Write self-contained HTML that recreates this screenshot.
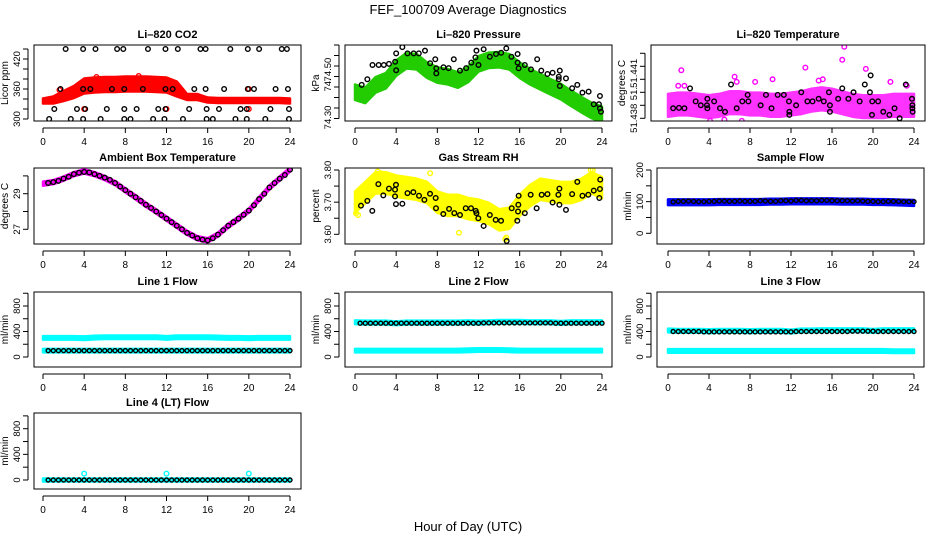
<!DOCTYPE html>
<html><head><meta charset="utf-8"><title>FEF_100709 Average Diagnostics</title>
<style>
html,body{margin:0;padding:0;background:#fff;}
svg{display:block;font-family:"Liberation Sans",Arial,sans-serif;}
.ttl{font-weight:bold;font-size:11px;}
.tk{font-size:10px;}
.tky{font-size:9.5px;}
</style></head>
<body>
<svg id="fig" width="936" height="540" viewBox="0 0 936 540" xmlns="http://www.w3.org/2000/svg">
<text x="468" y="14" text-anchor="middle" font-size="13">FEF_100709  Average Diagnostics</text>
<text x="468" y="531" text-anchor="middle" font-size="13">Hour of Day (UTC)</text>
</svg>
<script>
// ---------- data ----------
const xTicks = [0,4,8,12,16,20,24];
const hourly = [0,1,2,3,4,5,6,7,8,9,10,11,12,13,14,15,16,17,18,19,20,21,22,23,24];

// CO2
const co2BandCenter = [336,338,346,354,366,368,369,369,370,370,370,369,368,360,344,344,338,337,337,337,337,337,337,337,336];
const co2BandHalf   = [3,5,8,10,13,13,13,13,13,13,13,13,13,13,4,4,3,3,3,3,3,3,3,3,3];
const co2BlackHours = [2.2,3.9,5.1,7.2,7.8,10.2,11.9,13.1,15.3,15.8,18.2,19.9,21.0,23.2,23.7,
  1.7,3.9,4.6,6.7,7.9,9.7,11.9,12.6,14.7,15.8,17.6,19.9,20.5,22.6,23.8,
  1.1,3.3,4.1,6.2,7.9,9.1,11.2,11.9,14.2,15.9,17.1,19.2,19.8,22.1,23.9,
  0.6,2.7,3.9,5.6,7.9,8.5,10.7,11.8,13.6,15.9,16.5,18.7,19.8,21.6,23.9];
const co2BlackVals = [440,440,440,440,440,440,440,440,440,440,440,440,440,440,440,
  360,360,360,360,360,360,360,360,360,360,360,360,360,360,360,
  320,320,320,320,320,320,320,320,320,320,320,320,320,320,320,
  300,300,300,300,300,300,300,300,300,300,300,300,300,300,300];
const co2RedHours = [4.0,12.0,20.0,4.0,12.0,20.0,1.6,2.0,5.2,9.3];
const co2RedVals  = [320,320,320,360,360,360,358,352,384,386];

// Pressure
const presBandCenter = [74.375,74.36,74.41,74.43,74.49,74.525,74.52,74.48,74.457,74.449,74.433,74.46,74.51,74.527,74.53,74.52,74.48,74.449,74.425,74.401,74.378,74.346,74.316,74.288,74.27];
const presBandHalf = 0.032;
const presBlackHours = [0.65,1.2,1.7,2.3,2.8,3.3,3.9,4.0,4.0,4.6,5.1,5.7,6.2,6.8,7.3,7.8,7.9,7.9,8.6,9.1,9.6,10.2,10.8,11.3,11.7,11.8,12.0,12.5,13.1,13.7,14.2,14.7,15.2,15.8,15.8,15.9,16.5,17.1,17.7,18.1,18.7,19.2,19.8,19.8,19.9,19.9,20.5,21.1,21.6,22.1,22.7,23.2,23.7,23.8,23.8,23.9];
const presBlackVals = [74.41,74.437,74.505,74.505,74.505,74.51,74.52,74.56,74.48,74.59,74.56,74.56,74.56,74.573,74.513,74.532,74.489,74.465,74.494,74.49,74.532,74.478,74.49,74.516,74.541,74.573,74.505,74.58,74.544,74.557,74.563,74.584,74.544,74.557,74.516,74.489,74.505,74.484,74.532,74.478,74.462,74.468,74.449,74.437,74.478,74.405,74.441,74.394,74.41,74.373,74.378,74.318,74.318,74.357,74.298,74.282];

// Li-820 temperature
const tempBandCenter = [51.4390,51.4391,51.4391,51.4390,51.4389,51.4390,51.4392,51.4392,51.4391,51.4391,51.4390,51.4390,51.4391,51.4392,51.4394,51.4395,51.4394,51.4392,51.4390,51.4389,51.4389,51.4389,51.4390,51.4390,51.4390];
const tempBandHalf = 0.0008;
const tempPinkHours = [1.3,1.0,1.6,6.5,6.7,8.5,10.2,13.4,14.7,15.1,16.9,17.0,17.2,19.3,21.7,23.3,4.1,7.2,5.5];
const tempPinkVals  = [51.4417,51.4405,51.4405,51.4412,51.4408,51.4408,51.4410,51.4419,51.4409,51.4410,51.4445,51.4425,51.4435,51.4418,51.4408,51.4405,51.4378,51.4378,51.4379];
const tempBlackHours = [0.5,1.07,1.6,2.15,2.7,3.2,3.8,3.84,3.84,4.5,5.07,5.56,6.15,6.7,7.25,7.77,7.84,9.04,9.56,10.1,10.7,11.3,11.8,11.84,11.84,12.5,13.0,13.6,14.1,14.7,15.2,15.7,15.8,15.8,16.6,17.0,17.6,18.1,18.7,19.2,19.7,19.77,19.9,19.93,20.5,21.0,21.6,22.1,22.6,23.2,23.8,23.84,23.84,23.87];
const tempBlackVals = [51.43877,51.4388,51.43877,51.4403,51.4393,51.4390,51.4390,51.4395,51.43877,51.4393,51.43877,51.4385,51.4406,51.43877,51.4393,51.4398,51.4393,51.4390,51.4398,51.43877,51.4398,51.4398,51.4393,51.4385,51.43826,51.4390,51.4400,51.4393,51.4393,51.4395,51.4393,51.4400,51.4390,51.4385,51.4395,51.4403,51.4395,51.4400,51.4393,51.4406,51.4400,51.4413,51.43826,51.4393,51.4393,51.4385,51.43826,51.43877,51.4380,51.4406,51.4395,51.4390,51.43877,51.4385];

// Ambient box temperature
const ambBand = [29.56,29.65,29.85,30.1,30.25,30.1,29.88,29.6,29.19,28.8,28.38,28.0,27.6,27.2,26.8,26.5,26.38,26.7,27.2,27.6,28.05,28.7,29.35,29.85,30.35];
const ambBlack = [29.6,29.65,29.72,29.85,29.95,30.1,30.18,30.22,30.2,30.1,30.0,29.9,29.78,29.6,29.4,29.2,29.0,28.8,28.6,28.38,28.2,28.0,27.8,27.6,27.4,27.2,27.0,26.8,26.65,26.5,26.42,26.38,26.5,26.7,26.95,27.2,27.4,27.6,27.82,28.05,28.35,28.7,29.0,29.35,29.6,29.85,30.05,30.35];

// Gas stream RH
const rhBandCenter = [3.70,3.73,3.76,3.76,3.75,3.745,3.74,3.73,3.70,3.69,3.69,3.68,3.675,3.665,3.645,3.65,3.69,3.72,3.74,3.735,3.73,3.73,3.74,3.76,3.745];
const rhBandHalf = 0.03;
const rhYellowHours = [2.2,2.5,7.3,10.1,14.6,14.7,0.1,0.3,22.9,23.1];
const rhYellowVals  = [3.795,3.79,3.79,3.605,3.585,3.59,3.665,3.66,3.80,3.80];
const rhBlackHours = [0.58,1.2,1.68,2.27,2.75,3.3,3.89,3.89,3.98,3.98,4.6,5.1,5.67,6.22,6.74,7.29,7.84,7.87,8.58,9.14,9.65,10.2,10.76,11.27,11.73,11.8,11.98,12.5,13.1,13.67,14.19,14.74,15.23,15.77,15.84,15.87,15.9,16.5,17.07,17.65,18.14,18.7,19.2,19.76,19.86,19.86,20.5,21.1,21.6,22.1,22.67,23.2,23.74,23.8,23.83];
const rhBlackVals = [3.689,3.704,3.673,3.756,3.721,3.742,3.718,3.739,3.694,3.754,3.695,3.728,3.731,3.720,3.707,3.726,3.713,3.681,3.663,3.679,3.666,3.660,3.681,3.681,3.673,3.666,3.650,3.626,3.660,3.645,3.642,3.579,3.681,3.642,3.671,3.692,3.720,3.666,3.723,3.681,3.723,3.725,3.699,3.723,3.692,3.742,3.676,3.725,3.763,3.720,3.723,3.736,3.713,3.741,3.770];

// Sample flow
const sfBand = [98,98,98,98,98,99,99,99,99,99,100,100,101,101,101,101,101,100,100,100,99,99,98,97,96];
const sfBlack = [99,101,101,102,101,100,100,101,101,102,102,101,101,102,101,101,101,103,102,101,101,103,103,102,104,104,103,103,103,104,104,103,103,103,103,102,103,102,101,101,100,100,101,101,101,100,100,100];

// Line flows
const l1Upper = [300,300,300,300,295,305,310,310,310,310,310,310,300,310,310,310,310,305,300,300,295,300,300,300,300];
const l1Lower = [100,100,100,100,100,100,100,100,100,100,100,100,100,100,100,100,100,100,100,100,100,100,100,100,100];
const l1Black = [100,100,100,100,100,100,100,100,100,100,100,100,100,100,100,100,100,100,100,100,100,100,100,100,100,100,100,100,100,100,100,100,100,100,100,100,100,100,100,100,100,100,100,100,100,100,100,100];
const l2Upper = [545,540,540,540,530,540,540,540,540,540,540,545,540,545,550,550,550,545,545,545,535,545,545,545,545];
const l2Lower = [100,100,100,100,100,100,100,100,100,100,100,105,110,110,110,105,100,100,100,100,100,100,100,100,100];
const l2Black = [530,530,530,530,530,530,530,530,530,530,530,530,530,530,530,530,530,530,530,530,530,530,530,530,535,535,535,535,535,535,535,535,535,535,535,535,535,535,530,530,530,530,530,530,530,530,530,530];
const l3Upper = [415,410,410,410,405,410,410,410,405,410,410,410,400,415,415,420,420,420,420,420,410,420,420,420,420];
const l3Lower = [95,95,95,95,95,95,95,95,95,95,95,95,95,95,95,95,95,95,95,95,95,95,90,90,90];
const l3Black = [400,400,400,400,400,400,395,395,395,395,395,395,395,395,395,395,395,395,395,395,395,395,395,395,400,400,400,400,400,400,400,400,400,400,400,405,405,405,405,405,400,400,400,400,400,400,400,400];
const l4Band = [0,0,0,0,0,0,0,0,0,0,0,0,0,0,0,0,0,0,0,0,0,0,0,0,0];
const l4Black = [0,0,0,0,0,0,0,0,0,0,0,0,0,0,0,0,0,0,0,0,0,0,0,0,0,0,0,0,0,0,0,0,0,0,0,0,0,0,0,0,0,0,0,0,0,0,0,0];
const l4SpikeHours = [4,12,20];
const l4SpikeVals = [100,100,100];

// ---------- drawing ----------
const NS = "http://www.w3.org/2000/svg";
const svg = document.getElementById("fig");
function el(tag, parent){ const e=document.createElementNS(NS,tag); parent.appendChild(e); return e; }
function halfHours(){ const h=[]; for(let i=1;i<=48;i++) h.push(i*0.5); return h; }
const HH = halfHours();

const COLS = [{bx0:34,bx1:301,ax0:43,ax1:290},{bx0:345,bx1:612,ax0:355,ax1:602},{bx0:657,bx1:924,ax0:668,ax1:914}];
const ROWS = [{by0:45,by1:121},{by0:168,by1:244},{by0:292,by1:367},{by0:413,by1:489}];

function makePanel(o){
  const c = COLS[o.col], r = ROWS[o.row];
  const bx0 = o.bx0!==undefined?o.bx0:c.bx0, bx1 = o.bx1!==undefined?o.bx1:c.bx1;
  const g = el("g", svg);
  
  
  const xs = h => c.ax0 + (c.ax1-c.ax0)*h/24;
  const ys = v => o.pA + (v-o.vA)*(o.pB-o.pA)/(o.vB-o.vA);
  const clipId = "clip-"+o.name;
  const cp = el("clipPath", g); cp.setAttribute("id", clipId);
  const cr = el("rect", cp);
  cr.setAttribute("x", bx0); cr.setAttribute("y", r.by0); cr.setAttribute("width", bx1-bx0); cr.setAttribute("height", r.by1-r.by0);
  const plot = el("g", g); plot.setAttribute("clip-path", "url(#"+clipId+")");
  
  
  const t = el("text", g); t.setAttribute("class","ttl"); t.setAttribute("x",(bx0+bx1)/2); t.setAttribute("y", r.by0-7); t.setAttribute("text-anchor","middle"); t.textContent=o.title;
  
  
  const b = el("rect", g); b.setAttribute("x",bx0); b.setAttribute("y",r.by0); b.setAttribute("width",bx1-bx0); b.setAttribute("height",r.by1-r.by0); b.setAttribute("fill","none"); b.setAttribute("stroke","#000"); b.setAttribute("stroke-width","1");
  
  
  const xa = el("g", g);
  
  
  const xl = el("line", xa); xl.setAttribute("x1",xs(0)); xl.setAttribute("x2",xs(24)); xl.setAttribute("y1",r.by1+7); xl.setAttribute("y2",r.by1+7); xl.setAttribute("stroke","#000");
  xTicks.forEach(h=>{
    const tl = el("line", xa); tl.setAttribute("x1",xs(h)); tl.setAttribute("x2",xs(h)); tl.setAttribute("y1",r.by1+7); tl.setAttribute("y2",r.by1+12); tl.setAttribute("stroke","#000");
    const tx = el("text", xa); tx.setAttribute("class","tk"); tx.setAttribute("x",xs(h)); tx.setAttribute("y",r.by1+24); tx.setAttribute("text-anchor","middle"); tx.textContent=h;
    
    
  });
  const ya = el("g", g);
  
  
  const yl = el("line", ya); yl.setAttribute("x1",bx0-6); yl.setAttribute("x2",bx0-6); yl.setAttribute("y1",ys(o.ticks[0])); yl.setAttribute("y2",ys(o.ticks[o.ticks.length-1])); yl.setAttribute("stroke","#000");
  o.ticks.forEach(v=>{
    const tl = el("line", ya); tl.setAttribute("x1",bx0-11); tl.setAttribute("x2",bx0-6); tl.setAttribute("y1",ys(v)); tl.setAttribute("y2",ys(v)); tl.setAttribute("stroke","#000");
  });
  o.labelVals.forEach((v,i)=>{
    const tx = el("text", ya); tx.setAttribute("class","tky"); tx.setAttribute("text-anchor","middle");
    const X = bx0-14, Y = ys(v);
    tx.setAttribute("transform","translate("+X+","+Y+") rotate(-90)"); tx.textContent=o.labels[i];
    
    
  });
  const yt = el("text", g); yt.setAttribute("font-size","10"); yt.setAttribute("text-anchor","middle");
  yt.setAttribute("transform","translate("+(bx0-26)+","+((r.by0+r.by1)/2)+") rotate(-90)"); yt.textContent=o.ylab;
  
  
  return {plot, xs, ys};
}

function band(p, hours, center, half, color, name){
  const up=[], lo=[];
  hours.forEach((h,i)=>{
    const hw = Array.isArray(half)?half[i]:half;
    up.push(p.xs(h)+","+(p.ys(center[i]+hw)-1));
    lo.unshift(p.xs(h)+","+(p.ys(center[i]-hw)+1));
  });
  const pg = el("polygon", p.plot);
  pg.setAttribute("points", up.concat(lo).join(" "));
  pg.setAttribute("fill", color); pg.setAttribute("stroke", color); pg.setAttribute("stroke-width", "2.5"); pg.setAttribute("stroke-linejoin","round");
  
  
}
function points(p, hours, vals, color, name, r){
  hours.forEach((h,i)=>{
    const c = el("circle", p.plot);
    c.setAttribute("cx", p.xs(h)); c.setAttribute("cy", p.ys(vals[i])); c.setAttribute("r", r||2.3);
    c.setAttribute("fill","none"); c.setAttribute("stroke",color); c.setAttribute("stroke-width","1.4");
    
    
  });
}

let p = makePanel({name:"panel-li820-co2",col:0,row:0,title:"Li–820 CO2",ylab:"Licor ppm",vA:300,pA:119,vB:440,pB:49,
  ticks:[300,320,340,360,380,400,420,440],labelVals:[300,360,420],labels:["300","360","420"]});
band(p, hourly, co2BandCenter, co2BandHalf, "#ff0000", "co2-red-series");
points(p, co2RedHours, co2RedVals, "#ff0000", "co2-red-point");
points(p, co2BlackHours, co2BlackVals, "#000", "co2-black-point");

p = makePanel({name:"panel-li820-pressure",col:1,row:0,title:"Li–820 Pressure",ylab:"kPa",vA:74.30,pA:108,vB:74.50,pB:66,
  ticks:[74.25,74.30,74.35,74.40,74.45,74.50,74.55,74.60],labelVals:[74.255,74.41,74.483],labels:["74.30","74.","74.50"]});
band(p, hourly, presBandCenter, presBandHalf, "#22cc00", "pressure-green-series");
points(p, presBlackHours, presBlackVals, "#000", "pressure-black-point");

p = makePanel({name:"panel-li820-temperature",col:2,row:0,bx0:651,bx1:925,title:"Li–820 Temperature",ylab:"degrees C",vA:51.438,pA:118.3,vB:51.443,pB:53.3,
  ticks:[51.438,51.439,51.440,51.441,51.442,51.443],labelVals:[51.438,51.4399,51.44146],labels:["51.438","51.","51.441"]});
band(p, hourly, tempBandCenter, tempBandHalf, "#ff33ff", "temperature-magenta-series");
points(p, tempPinkHours, tempPinkVals, "#ff00ff", "temperature-magenta-point");
points(p, tempBlackHours, tempBlackVals, "#000", "temperature-black-point");

p = makePanel({name:"panel-ambient-box-temperature",col:0,row:1,title:"Ambient Box Temperature",ylab:"degrees C",vA:27,pA:229.3,vB:29,pB:193.7,
  ticks:[27,28,29,30],labelVals:[27,29],labels:["27","29"]});
band(p, hourly, ambBand, 0.06, "#ff00ff", "ambient-magenta-series");
points(p, HH, ambBlack, "#000", "ambient-black-point");

p = makePanel({name:"panel-gas-stream-rh",col:1,row:1,title:"Gas Stream RH",ylab:"percent",vA:3.60,pA:234.3,vB:3.80,pB:170,
  ticks:[3.60,3.65,3.70,3.75,3.80],labelVals:[3.60,3.70,3.80],labels:["3.60","3.70","3.80"]});
band(p, hourly, rhBandCenter, rhBandHalf, "#ffff00", "rh-yellow-series");
points(p, rhYellowHours, rhYellowVals, "#ffff00", "rh-yellow-point");
points(p, rhBlackHours, rhBlackVals, "#000", "rh-black-point");

p = makePanel({name:"panel-sample-flow",col:2,row:1,title:"Sample Flow",ylab:"ml/min",vA:0,pA:233.3,vB:200,pB:170,
  ticks:[0,50,100,150,200],labelVals:[0,100,200],labels:["0","100","200"]});
band(p, hourly, sfBand, 6, "#0000ff", "sample-flow-blue-series");
points(p, HH, sfBlack, "#000", "sample-flow-black-point", 2);

const flowTicks=[0,200,400,600,800,1000], flowLabVals=[0,400,800], flowLabs=["0","400","800"];
p = makePanel({name:"panel-line1-flow",col:0,row:2,title:"Line 1 Flow",ylab:"ml/min",vA:0,pA:357,vB:800,pB:306,ticks:flowTicks,labelVals:flowLabVals,labels:flowLabs});
band(p, hourly, l1Upper, 12, "#00ffff", "line1-cyan-upper-series");
band(p, hourly, l1Lower, 12, "#00ffff", "line1-cyan-lower-series");
points(p, HH, l1Black, "#000", "line1-black-point", 2);

p = makePanel({name:"panel-line2-flow",col:1,row:2,title:"Line 2 Flow",ylab:"ml/min",vA:0,pA:357,vB:800,pB:306,ticks:flowTicks,labelVals:flowLabVals,labels:flowLabs});
band(p, hourly, l2Upper, 14, "#00ffff", "line2-cyan-upper-series");
band(p, hourly, l2Lower, 12, "#00ffff", "line2-cyan-lower-series");
points(p, HH, l2Black, "#000", "line2-black-point", 2);

p = makePanel({name:"panel-line3-flow",col:2,row:2,title:"Line 3 Flow",ylab:"ml/min",vA:0,pA:357,vB:800,pB:306,ticks:flowTicks,labelVals:flowLabVals,labels:flowLabs});
band(p, hourly, l3Upper, 14, "#00ffff", "line3-cyan-upper-series");
band(p, hourly, l3Lower, 12, "#00ffff", "line3-cyan-lower-series");
points(p, HH, l3Black, "#000", "line3-black-point", 2);

p = makePanel({name:"panel-line4-flow",col:0,row:3,title:"Line 4 (LT) Flow",ylab:"ml/min",vA:0,pA:480,vB:800,pB:428.7,ticks:flowTicks,labelVals:flowLabVals,labels:flowLabs});
band(p, hourly, l4Band, 8, "#00ffff", "line4-cyan-series");
points(p, l4SpikeHours, l4SpikeVals, "#00ffff", "line4-cyan-spike");
points(p, HH, l4Black, "#000", "line4-black-point", 2);
</script>
</body></html>
